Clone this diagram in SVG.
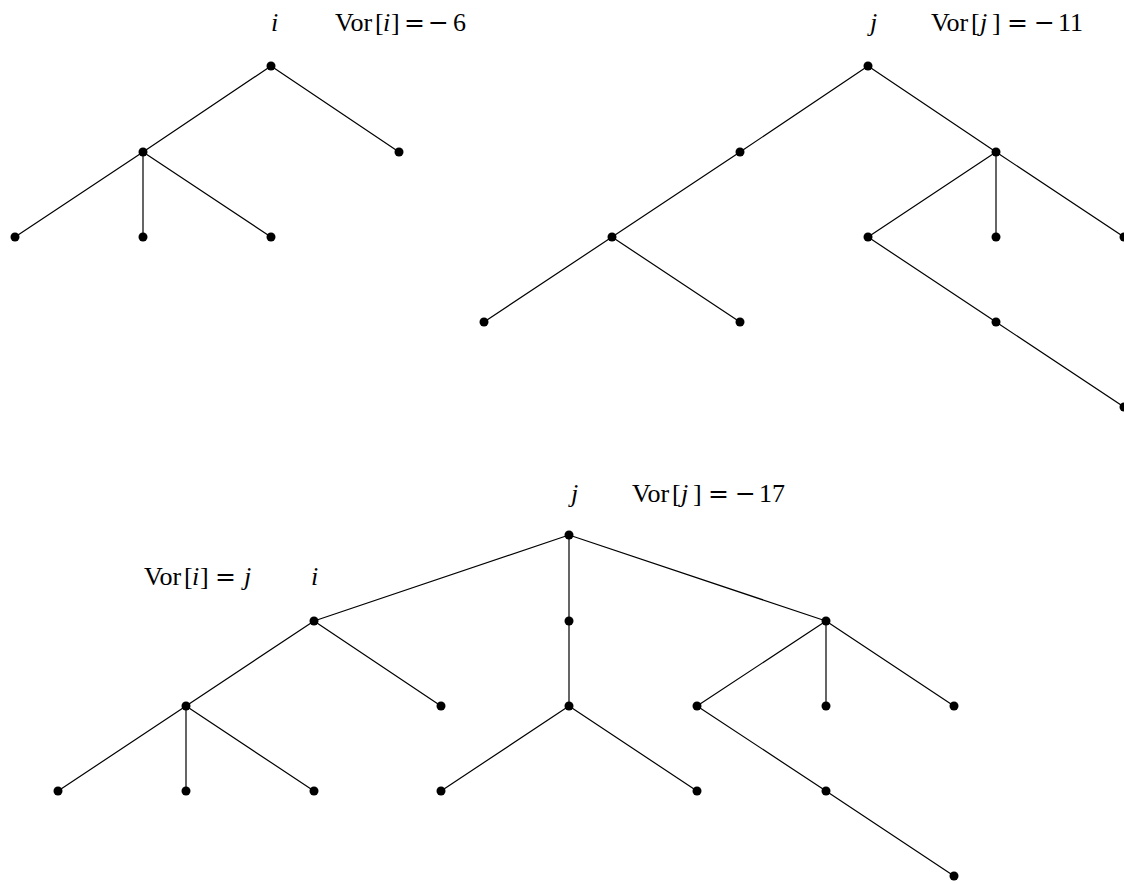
<svg xmlns="http://www.w3.org/2000/svg" width="1124" height="884" viewBox="0 0 1124 884">
<style>
.e{stroke:#000;stroke-width:1.2;fill:none}
.n{fill:#000}
text{font-family:"Liberation Serif","DejaVu Serif",serif;font-size:26px;fill:#000}
.it{font-style:italic}
.op{font-family:"DejaVu Serif","Liberation Serif",serif;font-size:25px}
</style>
<rect width="1124" height="884" fill="#fff"/>
<g id="connectors">
<path class="e" d="M271,66L143,152M271,66L399,152M143,152L15,237M143,152L143,237M143,152L271,237"/>
<path class="e" d="M868,66L740,152M868,66L996,152M740,152L612,237M612,237L484,322M612,237L740,322M996,152L868,237M996,152L996,237M996,152L1124,237M868,237L996,322M996,322L1124,407"/>
<path class="e" d="M569,535L314,621M569,535L569,621M569,535L826,621M314,621L186,706M314,621L441,706M186,706L58,791M186,706L186,791M186,706L314,791M569,621L569,706M569,706L441,791M569,706L697,791M826,621L697,706M826,621L826,706M826,621L954,706M697,706L826,791M826,791L954,876"/>
</g>
<g id="tree1">
<circle id="t1_r" class="n" cx="271" cy="66" r="4.5"/>
<circle id="t1_a" class="n" cx="143" cy="152" r="4.5"/>
<circle id="t1_b" class="n" cx="399" cy="152" r="4.5"/>
<circle id="t1_c1" class="n" cx="15" cy="237" r="4.5"/>
<circle id="t1_c2" class="n" cx="143" cy="237" r="4.5"/>
<circle id="t1_c3" class="n" cx="271" cy="237" r="4.5"/>
</g>
<g id="tree2">
<circle id="t2_r" class="n" cx="868" cy="66" r="4.5"/>
<circle id="t2_a" class="n" cx="740" cy="152" r="4.5"/>
<circle id="t2_b" class="n" cx="996" cy="152" r="4.5"/>
<circle id="t2_c" class="n" cx="612" cy="237" r="4.5"/>
<circle id="t2_c1" class="n" cx="484" cy="322" r="4.5"/>
<circle id="t2_c2" class="n" cx="740" cy="322" r="4.5"/>
<circle id="t2_d" class="n" cx="868" cy="237" r="4.5"/>
<circle id="t2_e" class="n" cx="996" cy="237" r="4.5"/>
<circle id="t2_f" class="n" cx="1124" cy="237" r="4.5"/>
<circle id="t2_g" class="n" cx="996" cy="322" r="4.5"/>
<circle id="t2_h" class="n" cx="1124" cy="407" r="4.5"/>
</g>
<g id="tree3">
<circle id="t3_r" class="n" cx="569" cy="535" r="4.5"/>
<circle id="t3_i" class="n" cx="314" cy="621" r="4.5"/>
<circle id="t3_m" class="n" cx="569" cy="621" r="4.5"/>
<circle id="t3_n" class="n" cx="826" cy="621" r="4.5"/>
<circle id="t3_ia" class="n" cx="186" cy="706" r="4.5"/>
<circle id="t3_ib" class="n" cx="441" cy="706" r="4.5"/>
<circle id="t3_c1" class="n" cx="58" cy="791" r="4.5"/>
<circle id="t3_c2" class="n" cx="186" cy="791" r="4.5"/>
<circle id="t3_c3" class="n" cx="314" cy="791" r="4.5"/>
<circle id="t3_mm" class="n" cx="569" cy="706" r="4.5"/>
<circle id="t3_m1" class="n" cx="441" cy="791" r="4.5"/>
<circle id="t3_m2" class="n" cx="697" cy="791" r="4.5"/>
<circle id="t3_n1" class="n" cx="697" cy="706" r="4.5"/>
<circle id="t3_n2" class="n" cx="826" cy="706" r="4.5"/>
<circle id="t3_n3" class="n" cx="954" cy="706" r="4.5"/>
<circle id="t3_n4" class="n" cx="826" cy="791" r="4.5"/>
<circle id="t3_n5" class="n" cx="954" cy="876" r="4.5"/>
</g>
<g id="labels">
<text class="it" x="271" y="31">i</text>
<text x="335" y="31">Vor</text><text x="375" y="31">[</text><text class="it" x="383" y="31">i</text><text x="391" y="31">]</text><text class="op" x="404" y="31">=</text><text class="op" x="428" y="31">−</text><text x="453" y="31">6</text>

<text class="it" x="870" y="31">j</text>
<text x="931" y="31">Vor</text><text x="971" y="31">[</text><text class="it" x="980" y="31">j</text><text x="992" y="31">]</text><text class="op" x="1007" y="31">=</text><text class="op" x="1034" y="31">−</text><text x="1058" y="31">11</text>

<text class="it" x="571" y="502">j</text>
<text x="632" y="502">Vor</text><text x="672" y="502">[</text><text class="it" x="681" y="502">j</text><text x="693" y="502">]</text><text class="op" x="708" y="502">=</text><text class="op" x="735" y="502">−</text><text x="759" y="502">17</text>

<text x="144" y="585">Vor</text><text x="184" y="585">[</text><text class="it" x="192" y="585">i</text><text x="200" y="585">]</text><text class="op" x="215" y="585">=</text><text class="it" x="244" y="585">j</text>
<text class="it" x="311" y="585">i</text>
</g>
</svg>
